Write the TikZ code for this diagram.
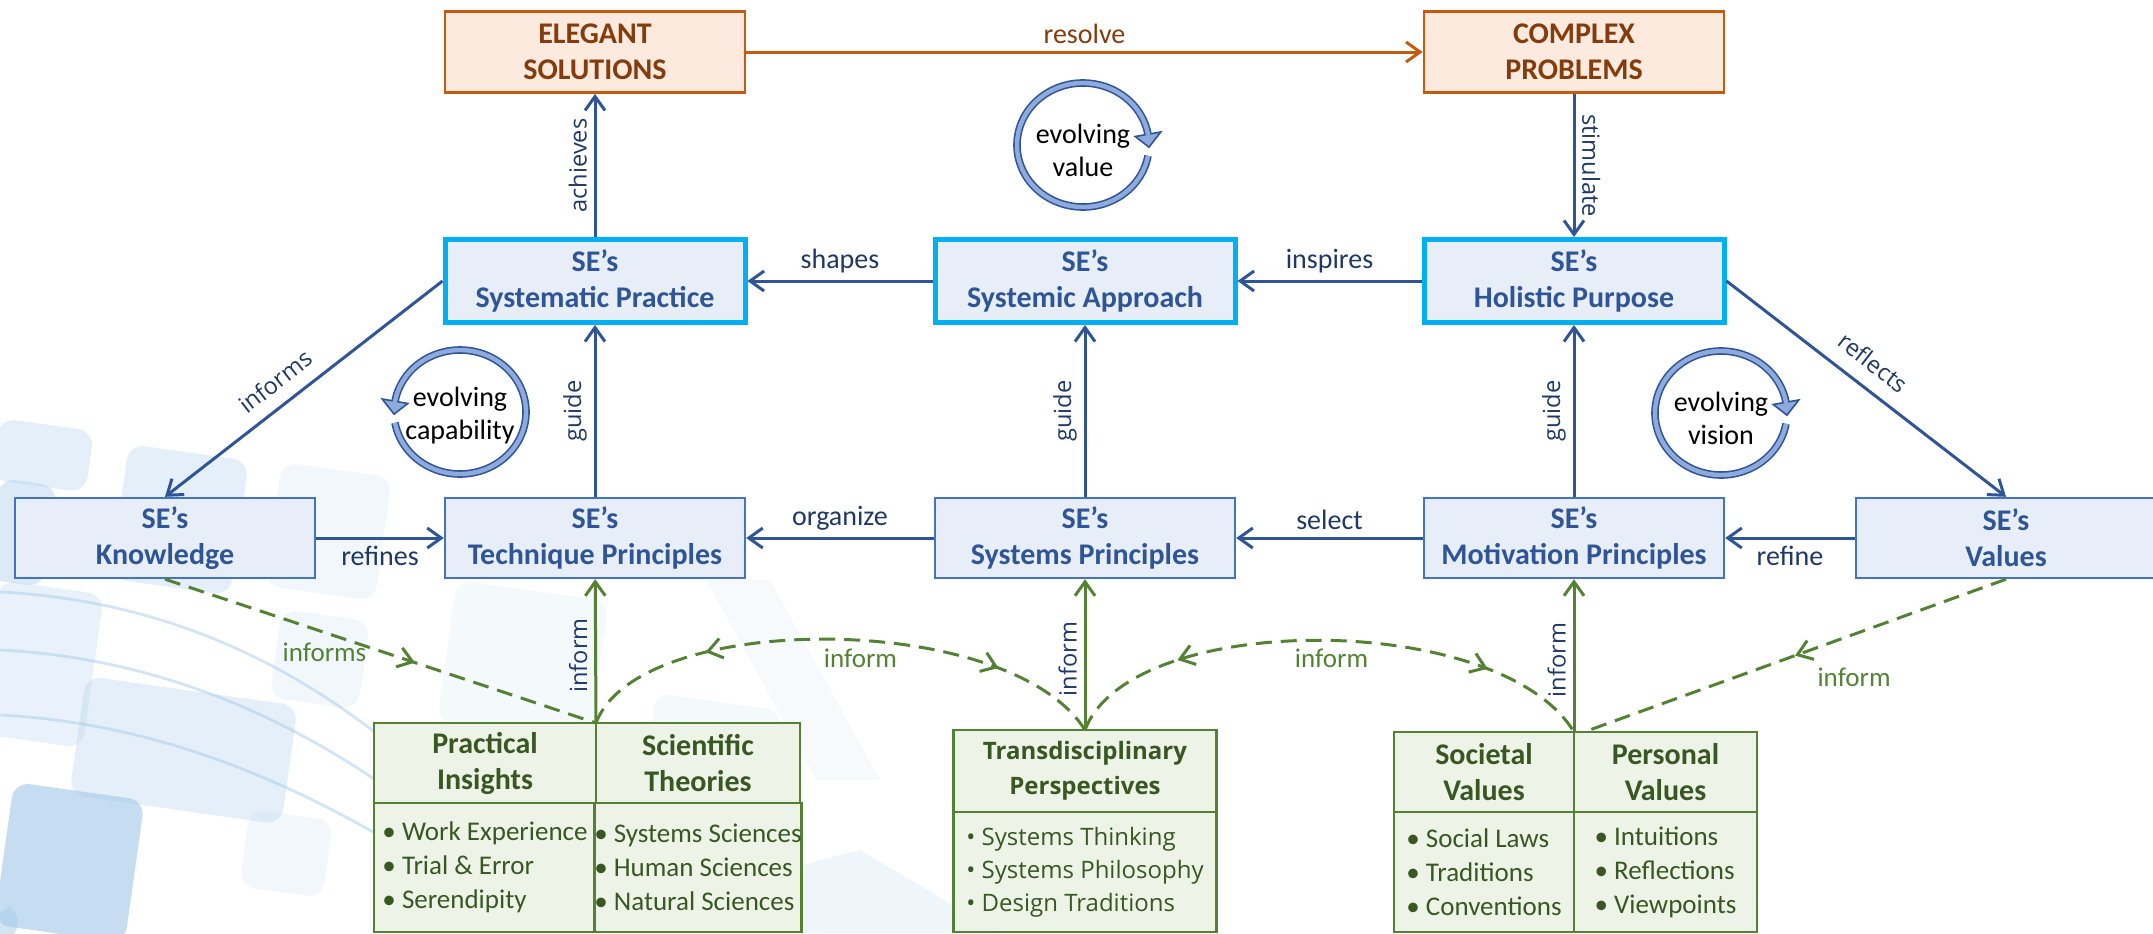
\documentclass[tikz,border=0pt]{standalone}
\usepackage{fontspec}
\setmainfont{Carlito}
\newfontfamily\segoe{Open Sans}
\usetikzlibrary{arrows.meta,positioning,calc,decorations.markings}

\definecolor{seblue}{HTML}{2F5597}
\definecolor{senavy}{HTML}{1F3864}
\definecolor{sefill}{HTML}{E7EEF8}
\definecolor{secyan}{HTML}{00B0F0}
\definecolor{seline}{HTML}{4472C4}
\definecolor{orline}{HTML}{C55A11}
\definecolor{orfill}{HTML}{FCEADF}
\definecolor{ortext}{HTML}{843C0C}
\definecolor{grline}{HTML}{548235}
\definecolor{grfill}{HTML}{EDF4E7}
\definecolor{grtext}{HTML}{385723}
\definecolor{ringfill}{HTML}{8FAADC}
\definecolor{tileblue}{HTML}{A7CBEA}

\tikzset{
  sebox/.style={
    rectangle, draw=seline, line width=1.2pt, fill=sefill,
    minimum width=150pt, minimum height=40pt, align=center,
    text=seblue, font=\fontsize{15}{18}\selectfont\bfseries
  },
  sehl/.style={sebox, draw=secyan, line width=2.5pt, minimum height=41.5pt},
  goal/.style={
    rectangle, draw=orline, line width=1.4pt, fill=orfill,
    minimum width=150pt, minimum height=40.5pt, align=center,
    text=ortext, font=\fontsize{15}{18}\selectfont\bfseries
  },
  srchead/.style={
    rectangle, draw=grline, line width=1.4pt, fill=grfill, outer sep=0pt,
    inner sep=0pt, minimum height=40pt, align=center,
    text=grtext, font=\fontsize{15}{18}\selectfont\bfseries
  },
  srcbody/.style={
    rectangle, draw=grline, line width=1.4pt, fill=grfill, outer sep=0pt,
    inner sep=0pt, minimum height=60pt, align=left,
    text=grtext, font=\fontsize{13.5}{17}\selectfont
  },
  flow/.style={-{Straight Barb[length=7pt,width=10pt]}, line width=1.5pt, draw=seblue},
  solve/.style={-{Straight Barb[length=7pt,width=10pt]}, line width=1.5pt, draw=orline},
  feed/.style={-{Straight Barb[length=7pt,width=10pt]}, line width=1.5pt, draw=grline},
  feeddash/.style={line width=1.5pt, draw=grline, dash pattern=on 8pt off 4.5pt},
  midto/.style={postaction={decorate}, decoration={markings,
      mark=at position #1 with {\arrow{Straight Barb[length=7pt,width=10pt]}}}},
  midboth/.style 2 args={postaction={decorate}, decoration={markings,
      mark=at position #1 with {\arrowreversed{Straight Barb[length=7pt,width=10pt]}},
      mark=at position #2 with {\arrow{Straight Barb[length=7pt,width=10pt]}}}}
}

\begin{document}
\begin{tikzpicture}[
    x=0.5pt, y=-0.5pt,
    lbl/.style={font=\fontsize{14}{16}\selectfont, text=senavy},
    vlbl/.style={font=\segoe\fontsize{11.8}{14}\selectfont, text=senavy},
    glbl/.style={font=\fontsize{13.5}{16}\selectfont, text=grline},
    ringedge/.style={draw=seblue, line width=3.8pt},
    ringcore/.style={draw=ringfill, line width=2.2pt},
    ringhead/.style={draw=seblue, fill=ringfill, line width=0.8pt, line join=miter},
    ringtxt/.style={align=center, font=\fontsize{14}{16.5}\selectfont},
    tile/.style={rounded corners=8pt, fill=tileblue}
]
  \useasboundingbox (0,0) rectangle (2153,933);

  % backdrop tiles
  \foreach \xa/\ya/\xb/\yb/\op in {14/782/146/926/.65, 86/676/300/796/.3,
      129/444/250/580/.3, 282/462/393/587/.15, 282/609/371/698/.15,
      250/809/334/887/.15, 0/478/58/580/.4, 0/580/105/735/.25,
      0/905/20/940/.5, 457/580/610/723/.12, 656/693/783/813/.12,
      0/418/95/480/.3}
    \fill[tile, fill opacity=\op, rotate around={-8:(\xa,\ya)}] (\xa,\ya) rectangle (\xb,\yb);
  \fill[tileblue, fill opacity=.1] (706,580) -- (770,580) -- (880,780) -- (816,780) -- cycle;
  \fill[tileblue, fill opacity=.18] (783,870) -- (860,850) -- (1000,933) -- (800,933) -- cycle;
  \foreach \ya/\yb in {592/770, 650/812, 715/860}
    \draw[tileblue, line width=1.4pt, opacity=.5] (0,\ya) .. controls (160,\ya+8) and (300,\ya+70) .. (420,\yb);

  % Goals (top row)
  \node[goal] (elegant) at (595,52) {ELEGANT\\SOLUTIONS};
  \node[goal] (complex) at (1574,52) {COMPLEX\\PROBLEMS};
  \draw[solve] (elegant) -- node[lbl, text=ortext, above] (lblresolve) {resolve} (complex);

  % SE's core (first row)
  \node[sehl] (practice) at (595,281)  {SE’s\\Systematic Practice};
  \node[sehl] (approach) at (1085,281) {SE’s\\Systemic Approach};
  \node[sehl] (purpose)  at (1574,281) {SE’s\\Holistic Purpose};

  % SE's principles (second row)
  \node[sebox] (knowledge)  at (165,538)  {SE’s\\Knowledge};
  \node[sebox] (technique)  at (595,538)  {SE’s\\Technique Principles};
  \node[sebox] (systems)    at (1085,538) {SE’s\\Systems Principles};
  \node[sebox] (motivation) at (1574,538) {SE’s\\Motivation Principles};
  \node[sebox] (values)     at (2006,538) {SE’s\\Values};

  \draw[flow] (practice) -- node[vlbl, rotate=90, anchor=south] (lblachieves) {achieves} (elegant);
  \draw[flow] (complex) -- node[vlbl, rotate=-90, anchor=south] (lblstimulate) {stimulate} (purpose);
  \draw[flow] (approach) -- node[lbl, above] (lblshapes) {shapes} (practice);
  \draw[flow] (purpose) -- node[lbl, above] (lblinspires) {inspires} (approach);
  \draw[flow] (practice.west) -- node[vlbl, sloped, above=3pt, pos=0.55] (lblinforms) {informs} (knowledge.north);
  \draw[flow] (purpose.east) -- node[vlbl, sloped, above=4pt, pos=0.47] (lblreflects) {reflects} (values.north);

  \foreach \a/\b in {technique/practice, systems/approach, motivation/purpose}{
    \draw[flow] (\a) -- node[vlbl, rotate=90, anchor=south] (lblguide\a) {guide} (\b);
  }

  \draw[flow] (knowledge) -- node[lbl, below] (lblrefines) {refines} (technique);
  \draw[flow] (systems) -- node[lbl, above] (lblorganize) {organize} (technique);
  \draw[flow] (motivation) -- node[lbl, above] (lblselect) {select} (systems);
  \draw[flow] (values) -- node[lbl, below] (lblrefine) {refine} (motivation);

  % evolving loops
  \coordinate (valuec) at (1083,145);
  \coordinate (capc) at (460,412);
  \coordinate (visionc) at (1721,413);
  \foreach \c/\s/\e/\t/\d in {valuec/10/350/362/1, capc/170/-170/-182/-1, visionc/10/350/362/1}{
    \draw[ringedge] ($(\c)+(\s:66 and 62)$) arc[start angle=\s, end angle=\e, x radius=66, y radius=62];
    \filldraw[ringhead] ($(\c)+(\e:79 and 75)$) -- ($(\c)+(\t:66 and 62)$)
      -- ($(\c)+(\e:53 and 49)$) -- cycle;
    \draw[ringcore] ($(\c)+(\s:66 and 62)$) arc[start angle=\s, end angle=\e+\d*0.8, x radius=66, y radius=62];
  }
  \node[ringtxt] (valuetxt) at (1083,150) {evolving\\value};
  \node[ringtxt] (captxt) at (460,416) {evolving\\capability};
  \node[ringtxt] (visiontxt) at (1721,418) {evolving\\vision};

  % Sources (bottom)
  \node[srchead, minimum width=111pt] (practical) at (485,763) {Practical\\Insights};
  \node[srchead, minimum width=102pt, right=0pt of practical] (scientific) {Scientific\\Theories};
  \node[srcbody, minimum width=111pt, minimum height=64.5pt, below=0pt of practical] (practicalitems)
    {• Work Experience\\• Trial \& Error\\• Serendipity};
  \node[srcbody, minimum width=102pt, minimum height=64.5pt, below=0pt of scientific] (scientificitems)
    {• Systems Sciences\\• Human Sciences\\• Natural Sciences};

  \node[srchead, minimum width=131.5pt, minimum height=41pt,
        font=\segoe\fontsize{12}{17.5}\selectfont\bfseries] (transdisc) at (1085,771)
    {Transdisciplinary\\Perspectives};
  \node[srcbody, minimum width=131.5pt, font=\segoe\fontsize{12}{16.5}\selectfont,
        below=0pt of transdisc] (transitems)
    {• Systems Thinking\\• Systems Philosophy\\• Design Traditions};

  \node[srchead, minimum width=90pt] (societal) at (1484,772) {Societal\\Values};
  \node[srchead, minimum width=91.5pt, right=0pt of societal] (personal) {Personal\\Values};
  \node[srcbody, minimum width=90pt, below=0pt of societal] (societalitems)
    {• Social Laws\\• Traditions\\• Conventions};
  \node[srcbody, minimum width=91.5pt, below=0pt of personal] (personalitems)
    {• Intuitions\\• Reflections\\• Viewpoints};

  \foreach \a/\b in {practical.north east/technique, transdisc/systems, societal.north east/motivation}{
    \draw[feed] (\a) -- node[vlbl, rotate=90, anchor=south, pos=0.47] {inform} (\b);
  }

  \draw[feeddash, midto=0.58] (knowledge.south) -- node[glbl, pos=0.37, below=1pt] (lblinformsk) {informs}
    (practical.north east);
  \draw[feeddash, midboth={0.25}{0.8}] (practical.north east) .. controls +(42,-113) and +(-75,-120) ..
    node[glbl, pos=0.55, below] (lblinformt) {inform} (transdisc.north);
  \draw[feeddash, midboth={0.22}{0.8}] (transdisc.north) .. controls +(45,-120) and +(-74,-122) ..
    node[glbl, pos=0.52, below] (lblinforms) {inform} (societal.north east);
  \draw[feeddash, midto=0.5] (values.south) -- node[glbl, pos=0.36, below=13pt] (lblinformv) {inform}
    ([xshift=5pt]personal.north west);
\end{tikzpicture}
\end{document}
